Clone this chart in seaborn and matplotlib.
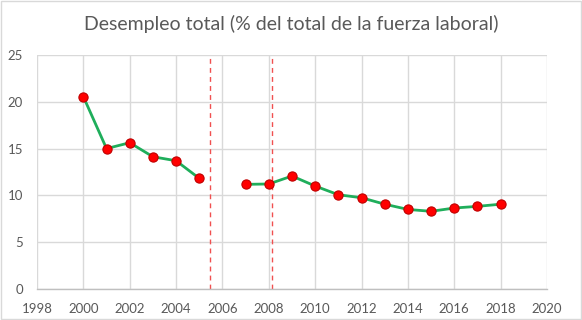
import numpy as np
import pandas as pd
import matplotlib
matplotlib.use("Agg")
import matplotlib.pyplot as plt
import seaborn as sns

years = [2000, 2001, 2002, 2003, 2004, 2005, 2007, 2008, 2009, 2010, 2011, 2012, 2013, 2014, 2015, 2016, 2017, 2018]
values = [20.55, 15.0, 15.63, 14.13, 13.7, 11.82, 11.18, 11.22, 12.07, 11.0, 10.07, 9.75, 9.06, 8.5, 8.3, 8.65, 8.83, 9.06]
segments = [0, 0, 0, 0, 0, 0, 1, 1, 1, 1, 1, 1, 1, 1, 1, 1, 1, 1]
vlines = [2005.45, 2008.12]
title = "Desempleo total (% del total de la fuerza laboral)"
xticks = list(range(1998, 2021, 2))
yticks = [0, 5, 10, 15, 20, 25]

df = pd.DataFrame({"year": years, "value": values, "seg": segments})

sns.set_theme(style="white")
plt.rcParams["font.family"] = ["Lato", "DejaVu Sans"]

fig = plt.figure(figsize=(5.82, 3.2), dpi=100)
ax = fig.add_axes([37/582, 1-289/320, (547-37)/582, (289-55)/320])

sns.lineplot(data=df, x="year", y="value", hue="seg", palette=["#1fae5b", "#1fae5b"],
             estimator=None, linewidth=2, legend=False, ax=ax, zorder=3)
sns.scatterplot(data=df, x="year", y="value", color="#ff0000", edgecolor="#c00000",
                s=44, linewidth=0.8, ax=ax, zorder=4, legend=False)
for v in vlines:
    ax.axvline(v, color="#f05050", linestyle=(0, (3.5, 3)), linewidth=1, zorder=2)

ax.set_xlim(1998, 2020)
ax.set_ylim(0, 25)
ax.set_xticks(xticks)
ax.set_yticks(yticks)
ax.grid(True, color="#d9d9d9", linewidth=1)
ax.set_axisbelow(True)
for s in ["top", "right", "left"]:
    ax.spines[s].set_visible(False)
ax.spines["bottom"].set_color("#bfbfbf")
ax.spines["bottom"].set_linewidth(1)
ax.tick_params(axis="both", length=0, labelsize=9.5, labelcolor="#595959")
ax.tick_params(axis="x", pad=10)
ax.tick_params(axis="y", pad=10)
ax.set_xlabel("")
ax.set_ylabel("")

fig.text(0.5, 1-24/320, title, ha="center", va="center", fontsize=14, color="#595959")
fig.patches.append(plt.Rectangle((0.002, 0.003), 0.996, 0.994, transform=fig.transFigure,
                                 fill=False, edgecolor="#d9d9d9", linewidth=1))

fig.savefig("out.png", dpi=100, facecolor="white")
